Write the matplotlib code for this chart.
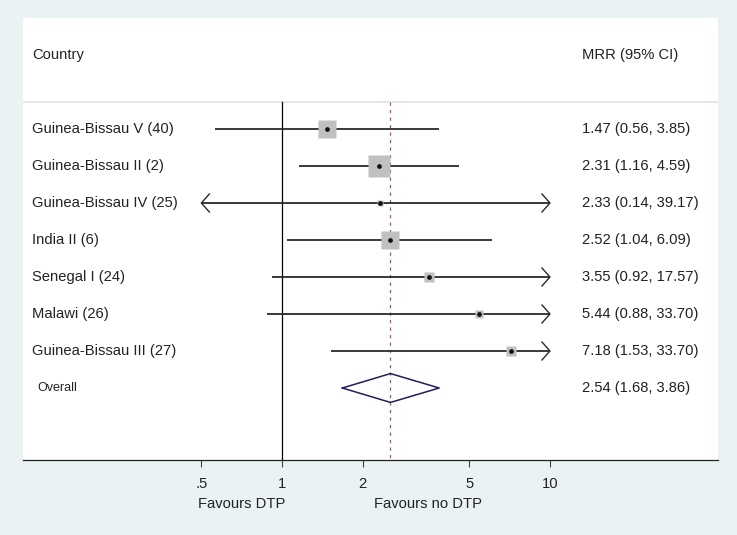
import numpy as np
import matplotlib
matplotlib.use('Agg')
import matplotlib.pyplot as plt
import matplotlib.transforms as mtransforms

# study data
studies = ['Guinea-Bissau V (40)', 'Guinea-Bissau II (2)', 'Guinea-Bissau IV (25)',
           'India II (6)', 'Senegal I (24)', 'Malawi (26)', 'Guinea-Bissau III (27)']
mrr = [1.47, 2.31, 2.33, 2.52, 3.55, 5.44, 7.18]
ci_low = [0.56, 1.16, 0.14, 1.04, 0.92, 0.88, 1.53]
ci_high = [3.85, 4.59, 39.17, 6.09, 17.57, 33.70, 33.70]
weights = [19.7, 32.9, 3.3, 22.1, 8.2, 5.5, 8.2]   # % weight, box area

overall_mrr = 2.54
overall_low = 1.68
overall_high = 3.86

tick_vals = [0.5, 1, 2, 5, 10]
tick_labels = ['.5', '1', '2', '5', '10']

plt.rcParams['font.family'] = ['Liberation Sans', 'DejaVu Sans']

bg = '#eaf2f4'
fs = 10.6
tcol = '#222222'
fig = plt.figure(figsize=(7.37, 5.35), dpi=100, facecolor=bg)
ax = fig.add_axes([23/737, 75/535, 695/737, 442/535])
ax.set_facecolor('white')
ax.set_xscale('log')
ax.set_xlim(0.108, 42.37)
ylo, yhi = 8.946, -3.0
ax.set_ylim(ylo, yhi)

clip_lo, clip_hi = 0.5, 10
arm_f = 10 ** (8 / 268)
arm_h = 0.243
top_line = -0.74

# header separator + reference lines
ax.axhline(top_line, color='#e0e0e0', lw=1.1)
ax.plot([1, 1], [top_line, ylo], color='black', lw=0.9)
ax.plot([overall_mrr, overall_mrr], [top_line, ylo], color='#a8506a', lw=0.9,
        dashes=(2.6, 3.4))

for i in range(len(studies)):
    lo = max(ci_low[i], clip_lo)
    hi = min(ci_high[i], clip_hi)
    ax.plot([lo, hi], [i, i], color='#2a2a2a', lw=1.3, solid_capstyle='butt')
    if ci_low[i] < clip_lo:
        ax.plot([clip_lo * arm_f, clip_lo, clip_lo * arm_f], [i - arm_h, i, i + arm_h],
                color='#2a2a2a', lw=1.0)
    if ci_high[i] > clip_hi:
        ax.plot([clip_hi / arm_f, clip_hi, clip_hi / arm_f], [i - arm_h, i, i + arm_h],
                color='#2a2a2a', lw=1.0)
    side_px = 3.836 * np.sqrt(weights[i])
    ax.plot(mrr[i], i, marker='s', ms=side_px * 72 / 100, color='#c0c0c0',
            mec='none', zorder=3)
    ax.plot(mrr[i], i, marker='o', ms=2.4, color='#111111', zorder=4)

# overall diamond
yo = len(studies)
ax.plot([overall_low, overall_mrr, overall_high, overall_mrr, overall_low],
        [yo, yo - 0.39, yo, yo + 0.39, yo], color='#1f1f5c', lw=1.1)

# text columns
trans = mtransforms.blended_transform_factory(ax.transAxes, ax.transData)
ax.text(0.013, -2, 'Country', transform=trans, va='center', fontsize=fs, color=tcol)
ax.text(0.804, -2, 'MRR (95% CI)', transform=trans, va='center', fontsize=fs, color=tcol)
for i, name in enumerate(studies):
    ax.text(0.013, i, name, transform=trans, va='center', fontsize=fs, color=tcol)
    ax.text(0.804, i, f'{mrr[i]:.2f} ({ci_low[i]:.2f}, {ci_high[i]:.2f})',
            transform=trans, va='center', fontsize=fs, color=tcol)
ax.text(0.021, yo, 'Overall', transform=trans, va='center', fontsize=9, color=tcol)
ax.text(0.804, yo, f'{overall_mrr:.2f} ({overall_low:.2f}, {overall_high:.2f})',
        transform=trans, va='center', fontsize=fs, color=tcol)

# axis
for s in ['top', 'left', 'right']:
    ax.spines[s].set_visible(False)
ax.spines['bottom'].set_color('#222222')
ax.spines['bottom'].set_linewidth(0.9)
ax.set_yticks([])
ax.set_xticks(tick_vals)
ax.set_xticklabels(tick_labels)
ax.xaxis.set_minor_locator(matplotlib.ticker.NullLocator())
ax.tick_params(axis='x', length=5, width=0.8, color='#444444', labelsize=fs,
               labelcolor=tcol, pad=7)

xtrans = mtransforms.blended_transform_factory(ax.transData, ax.transAxes)
ax.text(0.71, -0.1, 'Favours DTP', transform=xtrans, ha='center', va='center',
        fontsize=fs, color=tcol)
ax.text(3.5, -0.1, 'Favours no DTP', transform=xtrans, ha='center', va='center',
        fontsize=fs, color=tcol)

fig.savefig('out.png', dpi=100, facecolor=bg)
